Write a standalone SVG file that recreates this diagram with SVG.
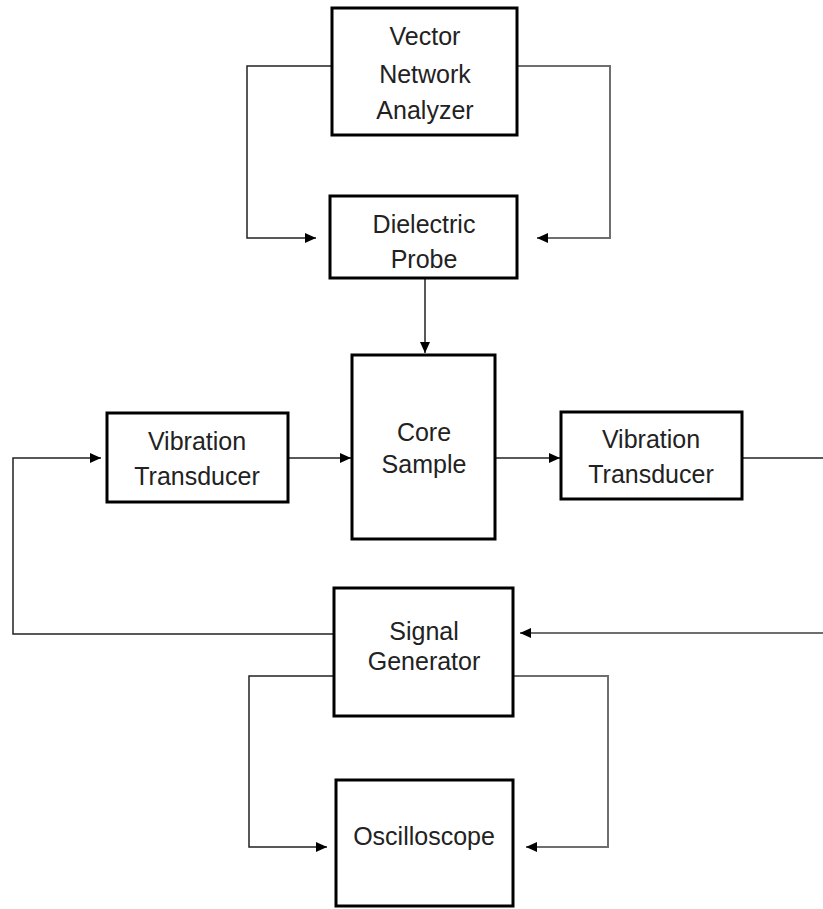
<svg xmlns="http://www.w3.org/2000/svg" width="823" height="909" viewBox="0 0 823 909">
<style>
.box{fill:#fff;stroke:#000;stroke-width:3}
.lbl{font-family:"Liberation Sans",Arial,sans-serif;font-size:25px;fill:#222;text-anchor:middle}
.ln{fill:none;stroke:#222;stroke-width:1.5}
.lg{fill:none;stroke:#6e6e6e;stroke-width:2}
</style>
<defs>
<marker id="ah" markerUnits="userSpaceOnUse" markerWidth="12" markerHeight="10" refX="11" refY="5" orient="auto"><path d="M0,0 L11,5 L0,10 Z" fill="#000"/></marker>
</defs>
<rect width="823" height="909" fill="#fff"/>
<g id="connectors">
<polyline class="ln" points="332,66 247,66 247,238 316,238" marker-end="url(#ah)"/>
<polyline class="lg" points="517,66 610,66 610,238 537,238" marker-end="url(#ah)"/>
<line class="ln" x1="425" y1="279" x2="425" y2="353" marker-end="url(#ah)"/>
<line class="ln" x1="288" y1="458" x2="351" y2="458" marker-end="url(#ah)"/>
<line class="ln" x1="495" y1="458" x2="560" y2="458" marker-end="url(#ah)"/>
<polyline class="ln" points="334,634 13,634 13,458 101,458" marker-end="url(#ah)"/>
<line class="ln" x1="742" y1="458" x2="823" y2="458"/>
<line class="lg" x1="823" y1="633" x2="520" y2="633" marker-end="url(#ah)"/>
<polyline class="ln" points="334,676 249,676 249,847 327,847" marker-end="url(#ah)"/>
<polyline class="lg" points="513,676 608,676 608,847 526,847" marker-end="url(#ah)"/>
</g>
<g id="vna">
<rect class="box" x="332" y="8" width="185" height="127"/>
<text class="lbl" x="425" y="45">Vector</text>
<text class="lbl" x="425" y="83">Network</text>
<text class="lbl" x="425" y="119">Analyzer</text>
</g>
<g id="probe">
<rect class="box" x="330" y="196" width="187" height="82"/>
<text class="lbl" x="424" y="233">Dielectric</text>
<text class="lbl" x="424" y="268">Probe</text>
</g>
<g id="core">
<rect class="box" x="352" y="355" width="143" height="184"/>
<text class="lbl" x="424" y="441">Core</text>
<text class="lbl" x="424" y="473">Sample</text>
</g>
<g id="vt-left">
<rect class="box" x="107" y="413" width="181" height="89"/>
<text class="lbl" x="197" y="450">Vibration</text>
<text class="lbl" x="197" y="485">Transducer</text>
</g>
<g id="vt-right">
<rect class="box" x="561" y="412" width="181" height="87"/>
<text class="lbl" x="651" y="448">Vibration</text>
<text class="lbl" x="651" y="483">Transducer</text>
</g>
<g id="siggen">
<rect class="box" x="334" y="588" width="179" height="128"/>
<text class="lbl" x="424" y="640">Signal</text>
<text class="lbl" x="424" y="670">Generator</text>
</g>
<g id="scope">
<rect class="box" x="336" y="780" width="177" height="126"/>
<text class="lbl" x="424" y="845">Oscilloscope</text>
</g>
</svg>
